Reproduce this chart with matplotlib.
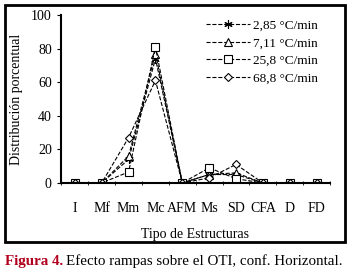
import matplotlib
matplotlib.use("Agg")
from matplotlib import pyplot as plt
from matplotlib.patches import Rectangle

plt.rcParams["font.family"] = ["Liberation Serif", "DejaVu Serif"]

categories = ["I", "Mf", "Mm", "Mc", "AFM", "Ms", "SD", "CFA", "D", "FD"]
series_labels = ["2,85 °C/min", "7,11 °C/min", "25,8 °C/min", "68,8 °C/min"]
r_285 = [0, 0, 14, 74, 0, 5, 5, 0, 0, 0]
r_711 = [0, 0, 16, 77, 0, 5, 6, 0, 0, 0]
r_258 = [0, 0, 6.5, 81, 0, 9, 2.5, 0, 0, 0]
r_688 = [0, 0, 27, 61, 0, 3, 11, 0, 0, 0]

fig = plt.figure(figsize=(3.5, 2.78), dpi=100)
ax = fig.add_axes([0.174, 0.342, 0.769, 0.604])

x = list(range(len(categories)))
markers = [(6, 2, 0), "^", "s", "D"]
sizes = [6, 6, 6, 4]
for vals, lab, m, s in zip([r_285, r_711, r_258, r_688], series_labels, markers, sizes):
    ax.plot(x, vals, linestyle="--", linewidth=0.8, color="black", marker=m,
            markersize=s, markerfacecolor="white", markeredgecolor="black",
            markeredgewidth=0.8, label=lab)

ax.set_xlim(-0.52, 9.44)
ax.set_ylim(0, 100)
ax.set_yticks([0, 20, 40, 60, 80, 100])
ax.set_xticks(x)
ax.set_xticklabels(categories)
ax.set_xticks([i + 0.5 for i in range(-1, 10)], minor=True)
ax.tick_params(axis="x", which="major", length=0, labelsize=10, pad=14)
ax.tick_params(axis="x", which="minor", length=3, direction="inout")
ax.tick_params(axis="y", labelsize=10, length=3, direction="out")
ax.spines["top"].set_visible(False)
ax.spines["right"].set_visible(False)
ax.spines["left"].set_linewidth(1.5)
ax.spines["bottom"].set_linewidth(1.5)
ax.set_ylabel("Distribución porcentual", fontsize=10, labelpad=6)
ax.set_xlabel("Tipo de Estructuras", fontsize=10, labelpad=9)

ax.legend(loc="upper right", bbox_to_anchor=(0.985, 1.02), frameon=False, fontsize=9.5,
          handlelength=3.4, handletextpad=0.2, labelspacing=0.4, borderpad=0.1)

fig.patches.append(Rectangle((0.015, 0.13), 0.97, 0.852, transform=fig.transFigure,
                             fill=False, edgecolor="black", linewidth=2))

fig.text(0.015, 0.045, "Figura 4.", color="#b0001e", fontweight="bold", fontsize=10.8)
fig.text(0.19, 0.045, "Efecto rampas sobre el OTI, conf. Horizontal.", color="black", fontsize=10.8)

fig.savefig("out.png", dpi=100)
